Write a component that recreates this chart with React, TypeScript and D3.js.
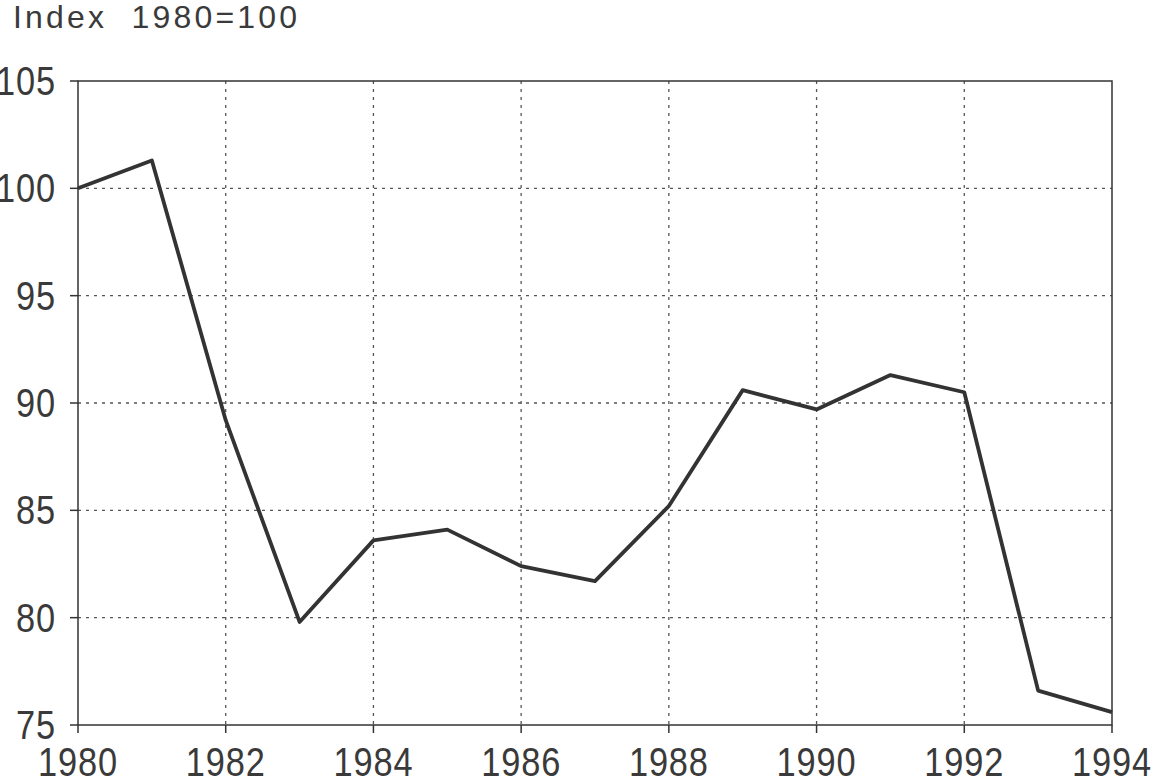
// @ts-nocheck
import React, { useEffect, useRef } from 'react'
import * as d3 from 'd3'

const years = [1980, 1981, 1982, 1983, 1984, 1985, 1986, 1987, 1988, 1989, 1990, 1991, 1992, 1993, 1994]
const values = [100, 101.3, 89.2, 79.8, 83.6, 84.1, 82.4, 81.7, 85.2, 90.6, 89.7, 91.3, 90.5, 76.6, 75.6]
const xTicks = [1980, 1982, 1984, 1986, 1988, 1990, 1992, 1994]
const yTicks = [75, 80, 85, 90, 95, 100, 105]
const title = 'Index  1980=100'

const W = 1155
const H = 779
const M = { top: 81, right: 43, bottom: 54, left: 78 }
const ink = '#333'
const font = '"Liberation Sans", Arial, sans-serif'

const App = () => {
  const ref = useRef(null)

  const x = d3.scaleLinear().domain([1980, 1994]).range([M.left, W - M.right])
  const y = d3.scaleLinear().domain([75, 105]).range([H - M.bottom, M.top])

  useEffect(() => {
    const svg = d3.select(ref.current)
    svg.selectAll('*').remove()

    // dotted grid
    const grid = svg.append('g')
    grid
      .selectAll('line.gx')
      .data(xTicks.slice(1, -1))
      .join('line')
      .attr('x1', (d) => x(d))
      .attr('x2', (d) => x(d))
      .attr('y1', y(105))
      .attr('y2', y(75))
      .attr('stroke', '#555')
      .attr('stroke-width', 1.3)
      .attr('stroke-dasharray', '3,5')
    grid
      .selectAll('line.gy')
      .data(yTicks.slice(1, -1))
      .join('line')
      .attr('x1', x(1980))
      .attr('x2', x(1994))
      .attr('y1', (d) => y(d))
      .attr('y2', (d) => y(d))
      .attr('stroke', '#555')
      .attr('stroke-width', 1.3)
      .attr('stroke-dasharray', '3,5')

    // frame
    svg
      .append('rect')
      .attr('x', x(1980))
      .attr('y', y(105))
      .attr('width', x(1994) - x(1980))
      .attr('height', y(75) - y(105))
      .attr('fill', 'none')
      .attr('stroke', ink)
      .attr('stroke-width', 1.5)

    // y ticks and labels
    const yAxis = svg.append('g')
    yAxis
      .selectAll('line')
      .data(yTicks)
      .join('line')
      .attr('x1', x(1980) - 8)
      .attr('x2', x(1980))
      .attr('y1', (d) => y(d))
      .attr('y2', (d) => y(d))
      .attr('stroke', ink)
      .attr('stroke-width', 1.5)
    yAxis
      .selectAll('text')
      .data(yTicks)
      .join('text')
      .attr('transform', (d) => `translate(56, ${y(d) + 14}) scale(0.86, 1)`)
      .attr('text-anchor', 'end')
      .attr('font-family', font)
      .attr('font-size', 40)
      .attr('letter-spacing', 1)
      .attr('fill', '#3a3a3a')
      .text((d) => d)

    // x ticks and labels
    const xAxis = svg.append('g')
    xAxis
      .selectAll('line')
      .data(xTicks)
      .join('line')
      .attr('x1', (d) => x(d))
      .attr('x2', (d) => x(d))
      .attr('y1', y(75))
      .attr('y2', y(75) + 8)
      .attr('stroke', ink)
      .attr('stroke-width', 1.5)
    xAxis
      .selectAll('text')
      .data(xTicks)
      .join('text')
      .attr('transform', (d) => `translate(${x(d)}, 776) scale(0.86, 1)`)
      .attr('text-anchor', 'middle')
      .attr('font-family', font)
      .attr('font-size', 40)
      .attr('letter-spacing', 1)
      .attr('fill', '#3a3a3a')
      .text((d) => d)

    // title
    svg
      .append('text')
      .attr('x', 13)
      .attr('y', 28)
      .attr('font-family', font)
      .attr('font-size', 32)
      .attr('letter-spacing', 3.2)
      .attr('fill', '#3a3a3a')
      .attr('xml:space', 'preserve')
      .style('white-space', 'pre')
      .text(title)

    // series
    const line = d3
      .line()
      .x((d, i) => x(years[i]))
      .y((d) => y(d))
    svg
      .append('path')
      .datum(values)
      .attr('d', line)
      .attr('fill', 'none')
      .attr('stroke', ink)
      .attr('stroke-width', 3.8)
      .attr('stroke-linejoin', 'round')
  })

  return (
    <svg
      ref={ref}
      width={W}
      height={H}
      style={{ position: 'absolute', left: 0, top: 0, background: '#fff' }}
    />
  )
}

export default App
